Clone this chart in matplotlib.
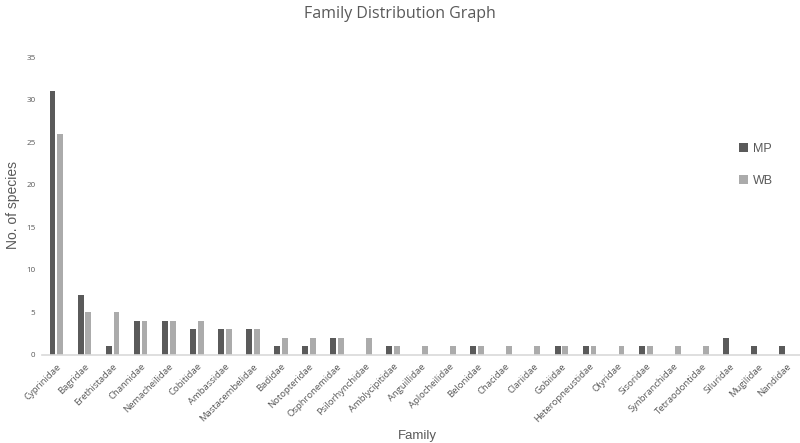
"""Family distribution bar chart (MP vs WB species counts)."""

import numpy as np
import matplotlib.pyplot as plt

families = [
    "Cyprinidae", "Bagridae", "Erethistadae", "Channidae", "Nemacheilidae",
    "Cobitidae", "Ambassidae", "Mastacembelidae", "Badidae", "Notopteridae",
    "Osphronemidae", "Psilorhynchidae", "Amblycipitidae", "Anguillidae",
    "Aplocheilidae", "Belonidae", "Chacidae", "Clariidae", "Gobiidae",
    "Heteropneustidae", "Olyridae", "Sisoridae", "Synbranchidae",
    "Tetraodontidae", "Siluridae", "Mugilidae", "Nandidae",
]
mp_counts = [31, 7, 1, 4, 4, 3, 3, 3, 1, 1, 2, 0, 1, 0, 0, 1, 0, 0, 1, 1, 0, 1, 0, 0, 2, 1, 1]
wb_counts = [26, 5, 5, 4, 4, 4, 3, 3, 2, 2, 2, 2, 1, 1, 1, 1, 1, 1, 1, 1, 1, 1, 1, 1, 0, 0, 0]
y_ticks = [0, 5, 10, 15, 20, 25, 30, 35]

MP_COLOR = "#5a5a5a"
WB_COLOR = "#ababab"
TEXT_COLOR = "#595959"

plt.rcParams["font.family"] = ["Open Sans", "DejaVu Sans"]

fig = plt.figure(figsize=(8, 4.43), dpi=100)
ax = fig.add_axes([0.053, 0.199, 0.947, 0.672])

x = np.arange(len(families))
w = 0.21
ax.bar(x - 0.14, mp_counts, width=w, color=MP_COLOR, label="MP")
ax.bar(x + 0.14, wb_counts, width=w, color=WB_COLOR, label="WB")

ax.set_xlim(-0.5, len(families) - 0.5)
ax.set_ylim(0, 35)
ax.set_yticks(y_ticks)
ax.set_xticks(x)
ax.set_xticklabels(families, rotation=45, ha="right", rotation_mode="anchor",
                   fontsize=6.8, color=TEXT_COLOR)
ax.tick_params(axis="y", labelsize=5.8, labelcolor=TEXT_COLOR, length=0, pad=5)
ax.tick_params(axis="x", length=0, pad=5)

for side in ["top", "right", "left"]:
    ax.spines[side].set_visible(False)
ax.spines["bottom"].set_color("#d9d9d9")
ax.spines["bottom"].set_linewidth(1.2)

fig.text(0.5, 0.968, "Family Distribution Graph", ha="center", va="center",
         fontsize=11.5, color=TEXT_COLOR)
fig.text(0.016, 0.537, "No. of species", rotation=90, ha="center", va="center",
         fontsize=10, color=TEXT_COLOR, family=["Liberation Sans", "DejaVu Sans"])
fig.text(0.522, 0.016, "Family", ha="center", va="center",
         fontsize=9.5, color=TEXT_COLOR, family=["Liberation Sans", "DejaVu Sans"])

leg = ax.legend(loc="upper left", bbox_to_anchor=(0.905, 0.75), frameon=False,
                labelspacing=1.6, handlelength=0.7, handleheight=0.7,
                handletextpad=0.4, prop={"family": ["Liberation Sans", "DejaVu Sans"], "size": 9})
for t in leg.get_texts():
    t.set_color(TEXT_COLOR)

fig.savefig("out.png", dpi=100)
